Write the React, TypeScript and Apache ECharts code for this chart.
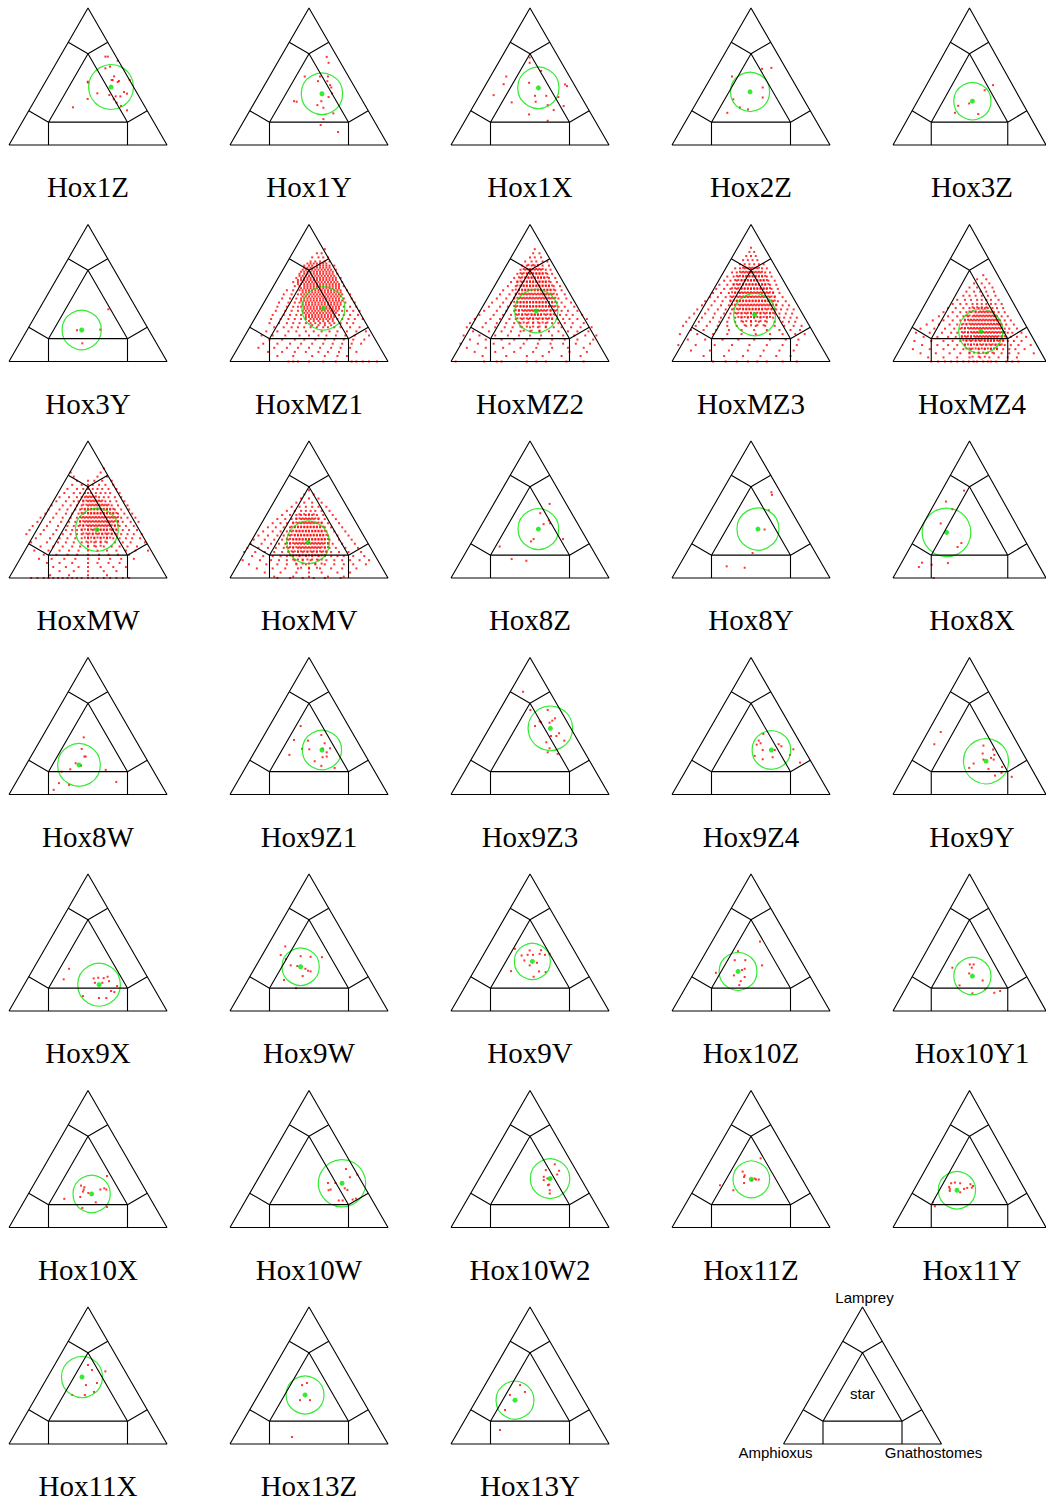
import React, { useEffect, useRef } from "react";
import * as echarts from "echarts";

// ---- panel names (row-major, 5 per row) ----
const PANEL_NAMES = [
  "Hox1Z", "Hox1Y", "Hox1X", "Hox2Z", "Hox3Z",
  "Hox3Y", "HoxMZ1", "HoxMZ2", "HoxMZ3", "HoxMZ4",
  "HoxMW", "HoxMV", "Hox8Z", "Hox8Y", "Hox8X",
  "Hox8W", "Hox9Z1", "Hox9Z3", "Hox9Z4", "Hox9Y",
  "Hox9X", "Hox9W", "Hox9V", "Hox10Z", "Hox10Y1",
  "Hox10X", "Hox10W", "Hox10W2", "Hox11Z", "Hox11Y",
  "Hox11X", "Hox13Z", "Hox13Y",
];

// mean position (x = % of base width, y = % of height) of each panel
const CENTERS: number[][] = [
  [64.6, 42.3], [58.2, 37.4], [55.3, 41.7], [49.4, 38.8], [51.9, 32],
  [46, 23], [59.1, 38.8], [54, 36.9], [52.3, 34.2], [57.4, 22],
  [55.6, 35.2], [49.4, 26], [55.3, 35.7], [54.4, 35.7], [35, 33.3],
  [44.3, 21.6], [58.2, 32.5], [62.9, 48.3], [62.9, 32.5], [60.8, 24.3],
  [57, 19.2], [44.7, 32.3], [51.5, 36.2], [41.8, 28.9], [51.9, 25.5],
  [52.3, 24.5], [70.9, 32.3], [62.7, 35.7], [50.2, 35.2], [41.8, 27.2],
  [46.2, 48.9], [47.5, 35.8], [40.5, 32],
];

// spread radius (in % of base width)
const RADII = [
  14.2, 13.1, 13.1, 12.4, 11.8,
  12.4, 13.6, 13.7, 13.3, 14,
  13.6, 13.5, 12.9, 13.3, 15.4,
  13.5, 12.4, 14.1, 12.2, 14.3,
  13.5, 11.8, 11.4, 12, 11.8,
  11.8, 15, 12.5, 11.6, 11.8,
  13, 12, 12,
];

// ---- sparse panels: [x, y] ----
const hox1Z = [[61, 64.5], [62.5, 64.5], [68.8, 61.5], [61, 56], [63.9, 57.2], [66.5, 50.1], [49.8, 46.2], [50, 45.7], [65, 47.4], [65.6, 47.4], [69.6, 46.7], [68.8, 46], [76.4, 47.4], [55.9, 37.7], [49.8, 33.6], [63.5, 36.5], [67.5, 35.5], [70.5, 35.5], [72.8, 38.7], [74.7, 37.5], [66.3, 33.4], [68.1, 30.9], [40.5, 27.5], [70.9, 28.5], [74.7, 25.3]];
const hox1Y = [[61.2, 64.3], [62.4, 60], [47.3, 50], [57, 50], [62, 50], [55.7, 46.6], [61.6, 46.6], [63.3, 43.7], [64.1, 42], [40.5, 32], [42.2, 31.6], [57.8, 32], [55.3, 29.1], [59.1, 27.2], [65.4, 23.1], [59.1, 18.9], [57.4, 14.6], [68.4, 9.5], [64.6, 37.6], [62.4, 35]];
const hox1X = [[49.8, 63.8], [49.8, 60], [57, 54.1], [35, 50], [33.3, 44.4], [49.4, 45.4], [72.2, 44.2], [73.4, 43], [27, 36.4], [53.2, 35.9], [60.3, 35.9], [67.9, 35], [38.4, 31.1], [53.6, 31.6], [61.2, 29.1], [71.3, 28.4], [65, 25.5], [49.4, 22.3], [61.2, 17.7]];
const hox2Z = [[57, 55.6], [62.9, 56.3], [38, 50], [57.4, 42], [57.4, 34.7], [38.8, 33.3], [43, 27.4], [48.1, 26], [35, 23.5]];
const hox3Z = [[65.4, 43.7], [59.9, 40], [42.6, 28.6], [55.7, 22.6], [40.5, 23.5], [49.8, 30.3]];
const hox3Y = [[62.9, 38.1], [43, 22.8], [57.8, 23.3], [46.4, 13.3]];
const hox8Z = [[62.4, 54.1], [56.5, 47.3], [61.9, 42], [62.7, 40], [52.3, 28.4], [70.9, 28.4], [50.6, 26.7], [30.8, 23], [38.4, 13.8], [47.7, 12.6], [58.6, 39.3]];
const hox8Y = [[62.9, 62.6], [63.3, 60.7], [61.2, 49.5], [58.6, 35.4], [51, 18.2], [34.6, 8.5], [46, 7.5]];
const hox8X = [[46.4, 63.8], [34.6, 55.8], [38.8, 50.2], [31.2, 39.8], [44.7, 25.5], [42.2, 22.6], [19, 11.2], [16.9, 8], [25.3, 9.7], [35.9, 10.9], [26.6, 0]];
const hox8W = [[47.3, 41.7], [46, 33.3], [47.7, 27.7], [48.5, 27.7], [42.2, 22.8], [45.6, 21.1], [38.8, 18.4], [33.3, 16.7], [61.2, 18], [67.9, 9.2], [31.6, 8.3], [38, 7], [28.3, 3.4]];
const hox9Z1 = [[44.7, 50], [40.5, 39.8], [49.4, 39.3], [57.8, 43.4], [59.9, 37.4], [45.6, 33.3], [50.2, 33], [58.6, 33.5], [63.3, 33.7], [61.2, 30.8], [58.6, 27.2], [61.2, 27.7], [37.6, 28.9], [53.6, 24.3], [57.8, 20.9], [66.2, 19.4]];
const hox9Z3 = [[45.6, 75], [50.2, 61.7], [61.2, 61.7], [56.1, 53.4], [57, 52.7], [65.8, 55.6], [64.1, 53.9], [62.4, 52.4], [53.2, 50], [68.4, 44.7], [63.3, 42.7], [66.7, 42.7], [71.7, 39.3], [60.3, 38.1], [62.4, 33.7], [61.2, 30.8], [67.5, 29.6]];
const hox9Z4 = [[54.9, 39.3], [56.1, 37.4], [57.8, 44.2], [67.5, 36.7], [65, 32.5], [57.4, 32.5], [63.7, 27.2], [57.4, 25.7], [52.3, 28.2], [76.8, 33], [74.7, 28.9], [81, 23.3], [53.6, 36.4], [69.2, 35.2]];
const hox9Y = [[31.2, 45.6], [27, 36.7], [59.1, 35.7], [65.4, 32.8], [66.2, 28.9], [64.1, 26.7], [65.8, 25.5], [58.6, 29.9], [59.1, 25.5], [52.7, 22.6], [49.8, 19.4], [62.4, 18.7], [70.9, 15.8], [66.7, 13.8], [77.6, 12.9], [71.3, 20.1]];
const hox9X = [[38, 30.8], [34.6, 23.1], [53.6, 23.8], [56.5, 24.3], [59.9, 24], [62.4, 25], [54.4, 20.6], [59.1, 20.6], [63.3, 21.8], [68.4, 18.2], [64.6, 14.6], [66.7, 13.8], [46.8, 10.9], [57, 9.5], [61.6, 9.5]];
const hox9W = [[35, 47.1], [32.1, 40.8], [35.4, 37.9], [44.7, 40], [51, 39.6], [58.2, 39.3], [38.4, 33.3], [42.6, 32.8], [47.7, 30.8], [49.4, 29.4], [51, 28.9], [46, 25.5], [34.2, 22.6], [41.8, 16.7]];
const hox9V = [[40.5, 45.4], [49.8, 44.2], [57, 44.4], [44.7, 40.5], [48.5, 41], [51.9, 41], [56.1, 41.7], [59.5, 41], [62.4, 41.7], [46.4, 36.9], [54.4, 35.2], [38, 29.1], [49.8, 33.3], [55.7, 28.9], [59.9, 28.4], [52.3, 25]];
const hox10Z = [[41.8, 43.7], [55.7, 50.7], [39.7, 37.1], [46.4, 37.1], [57, 33.3], [44.3, 29.9], [46, 30.8], [39.2, 26], [27.8, 27.9], [46, 24.8], [43.5, 21.8], [42.6, 18.9]];
const hox10Y1 = [[50.2, 34], [52.7, 34], [51.5, 31.6], [38.8, 31.6], [49.8, 27.4], [58.6, 22.3], [43.5, 18.7], [51.9, 12.9], [60.3, 15.8], [66.2, 13.3], [70, 14.6]];
const hox10X = [[62, 37.6], [45.6, 30.6], [47.7, 29.4], [47.3, 27.7], [46.8, 26.2], [50.2, 25.2], [57.8, 27.7], [60.3, 28.6], [61.6, 27.7], [45.1, 22.3], [35, 20.9], [54.9, 18.4], [46.4, 14.3], [62, 15]];
const hox10W = [[73.4, 42.7], [75.9, 36.7], [80.6, 38.6], [62, 32.5], [66.7, 32.5], [63.7, 27.7], [62.4, 27.2], [72.6, 28.6], [74.3, 27.4], [68.8, 19.7], [71.3, 19.7], [77.6, 20.4], [79.7, 21.1]];
const hox10W2 = [[65.7, 46.1], [60, 41.9], [68.4, 41.4], [67.2, 38.7], [58.7, 37], [58.7, 34.6], [61, 35.8], [62.1, 31.4], [61.4, 30.9], [62.5, 27.2], [62.5, 24.8]];
const hox11Z = [[56.1, 50.5], [44.7, 40.8], [46, 38.1], [45.6, 36.9], [52.3, 35.7], [53.2, 35], [54.9, 35], [50.6, 34.5], [45.6, 32.5], [30.4, 30.8], [38.8, 27.2]];
const hox11Y = [[38, 32.3], [40.5, 32.8], [43.9, 32.3], [50.6, 31.6], [52.3, 30.3], [36.7, 29.6], [37.1, 28.2], [46.4, 28.2], [48.5, 28.9], [43.9, 25.7], [37.1, 26.7], [26.2, 18.4], [27.4, 15.5], [51.5, 29.1]];
const hox11X = [[50, 57.7], [52.5, 54], [55.7, 44.5], [48.7, 43], [53.8, 38], [40, 35.8], [48, 35.8], [61, 53]];
const hox13Z = [[45.6, 43], [48.7, 44.5], [44.3, 32], [50.6, 32], [39.2, 5.1]];
const hox13Y = [[43.7, 43], [37.3, 35.8], [34.2, 24.8], [31, 10.2], [46.8, 38]];

// ---- dense panels: rows of [y, x-values] ----
type Rows = [number, number[]][];
const mz1Rows: Rows = [
  [82, [60]], [79, [55, 58]], [76, [52, 56, 59, 62]], [73, [51, 54, 57, 60, 63]],
  [70, [47, 50, 52, 55, 57, 59, 61, 63, 66]],
  [67, [46, 48, 50, 52, 54, 56, 58, 60, 62, 64, 67]],
  [64, [44, 47, 49, 51, 53, 55, 57, 59, 61, 63, 65, 68]],
  [61, [42, 45, 47, 49, 51, 53, 55, 57, 59, 61, 63, 65, 67, 70]],
  [58, [40, 43, 46, 48, 50, 52, 54, 56, 58, 60, 62, 64, 66, 68, 71]],
  [55, [41, 44, 47, 49, 51, 53, 55, 57, 59, 61, 63, 65, 67, 69, 72]],
  [52, [36, 40, 44, 46, 48, 50, 52, 54, 56, 58, 60, 62, 64, 66, 68, 70, 74]],
  [49, [34, 39, 43, 45, 47, 49, 51, 53, 55, 57, 59, 61, 63, 65, 67, 69, 71, 76]],
  [46, [33, 38, 42, 45, 47, 49, 51, 53, 55, 57, 59, 61, 63, 65, 67, 69, 72, 77]],
  [43, [31, 37, 41, 44, 46, 48, 50, 52, 54, 56, 58, 60, 62, 64, 66, 68, 70, 73, 79]],
  [40, [30, 36, 40, 43, 45, 47, 49, 51, 53, 55, 57, 59, 61, 63, 65, 67, 69, 72, 76, 80]],
  [37, [29, 35, 39, 43, 46, 48, 50, 52, 54, 56, 58, 60, 62, 64, 66, 68, 71, 74, 78, 82]],
  [34, [27, 34, 38, 42, 45, 48, 50, 52, 54, 56, 58, 60, 62, 64, 66, 69, 72, 76, 81]],
  [31, [26, 32, 37, 41, 45, 48, 51, 53, 55, 57, 59, 61, 63, 65, 68, 71, 75, 79, 84]],
  [28, [25, 31, 36, 40, 44, 48, 51, 54, 57, 60, 63, 66, 70, 74, 78]],
  [25, [28, 34, 39, 43, 47, 51, 55, 59, 62, 66, 70, 76, 82]],
  [22, [23, 30, 37, 42, 48, 53, 58, 63, 68, 74, 80, 86]],
  [19, [20, 27, 35, 44, 50, 56, 61, 67, 73, 79, 88]],
  [16, [25, 33, 41, 47, 54, 60, 66, 72, 78, 85]],
  [13, [21, 30, 38, 45, 52, 59, 65, 71, 77, 83]],
  [10, [18, 28, 36, 43, 50, 57, 64, 70, 76]],
  [7, [24, 33, 41, 48, 56, 62, 69, 80]],
  [4, [30, 40, 52, 60, 68, 74]],
  [0, [37, 40, 43, 50, 59, 67, 77, 80, 84, 88, 93]],
  // dense core
  [71.5, [49, 51, 53, 55, 57, 59, 61]],
  [68.5, [47, 49, 51, 53, 55, 57, 59, 61, 63]],
  [65.5, [45, 47, 49, 51, 53, 55, 57, 59, 61, 63, 65]],
  [62.5, [44, 46, 48, 50, 52, 54, 56, 58, 60, 62, 64, 66]],
  [59.5, [43, 45, 47, 49, 51, 53, 55, 57, 59, 61, 63, 65, 67]],
  [56.5, [43, 45, 47, 49, 51, 53, 55, 57, 59, 61, 63, 65, 67, 69]],
  [53.5, [45, 47, 49, 51, 53, 55, 57, 59, 61, 63, 65, 67, 69]],
  [50.5, [46, 48, 50, 52, 54, 56, 58, 60, 62, 64, 66, 68, 70]],
  [47.5, [46, 48, 50, 52, 54, 56, 58, 60, 62, 64, 66, 68, 70]],
  [44.5, [45, 47, 49, 51, 53, 55, 57, 59, 61, 63, 65, 67, 69, 71]],
  [41.5, [46, 48, 50, 52, 54, 56, 58, 60, 62, 64, 66, 68, 70]],
  [38.5, [47, 49, 51, 53, 55, 57, 59, 61, 63, 65, 67, 69]],
  [35.5, [47, 49, 51, 53, 55, 57, 59, 61, 63, 65, 67]],
  [32.5, [48, 50, 52, 54, 56, 58, 60, 62, 64, 66]],
  [29.5, [50, 53, 56, 59, 62, 65]],
  [26.5, [52, 56, 60, 64]],
];
const mz2Rows: Rows = [
  [82, [53]], [79, [52, 56]], [76, [50, 53, 57]], [73, [47, 51, 54, 58, 61]],
  [70, [45, 48, 51, 53, 55, 58, 62]],
  [67, [44, 47, 49, 51, 53, 55, 57, 60, 63]],
  [64, [42, 45, 48, 50, 52, 54, 56, 58, 61, 64]],
  [61, [40, 44, 47, 49, 51, 53, 55, 57, 59, 62, 66]],
  [58, [38, 42, 45, 48, 50, 52, 54, 56, 58, 60, 63, 67]],
  [55, [36, 41, 44, 46, 48, 50, 52, 54, 56, 58, 60, 62, 65, 69]],
  [52, [33, 39, 43, 45, 47, 49, 51, 53, 55, 57, 59, 61, 63, 66, 70]],
  [49, [31, 37, 41, 44, 46, 48, 50, 52, 54, 56, 58, 60, 62, 64, 67, 72]],
  [46, [29, 35, 40, 43, 45, 47, 49, 51, 53, 55, 57, 59, 61, 63, 65, 68, 73]],
  [43, [26, 33, 38, 42, 44, 46, 48, 50, 52, 54, 56, 58, 60, 62, 64, 67, 70, 76]],
  [40, [24, 31, 36, 41, 44, 46, 48, 50, 52, 54, 56, 58, 60, 62, 65, 68, 72, 78]],
  [37, [21, 29, 35, 40, 43, 46, 48, 50, 52, 54, 56, 58, 60, 63, 66, 70, 74, 80]],
  [34, [18, 27, 33, 38, 42, 45, 48, 51, 53, 55, 57, 60, 63, 66, 69, 73, 77, 83]],
  [31, [15, 25, 31, 37, 41, 45, 49, 52, 55, 58, 61, 64, 67, 71, 75, 80, 86]],
  [28, [12, 22, 29, 35, 40, 44, 48, 52, 56, 60, 64, 68, 72, 77, 84]],
  [25, [10, 20, 28, 34, 39, 45, 50, 55, 60, 65, 70, 76, 82, 89]],
  [22, [14, 24, 32, 38, 44, 50, 56, 62, 68, 74, 80, 87]],
  [19, [8, 18, 28, 36, 43, 50, 57, 64, 71, 78, 85, 92]],
  [16, [12, 22, 32, 40, 48, 56, 64, 72, 80, 90]],
  [13, [6, 17, 27, 37, 46, 55, 63, 71, 79, 88]],
  [10, [10, 22, 33, 44, 54, 64, 74, 84]],
  [7, [15, 28, 40, 52, 62, 75, 86]],
  [4, [20, 35, 48, 58, 70, 82]],
  [0, [3, 21, 29, 32, 48, 54, 60, 73, 84]],
  // dense core
  [70.5, [49, 52, 55]],
  [67.5, [46, 48, 50, 52, 54, 56, 58]],
  [64.5, [44, 46, 48, 50, 52, 54, 56, 58, 60]],
  [61.5, [43, 45, 47, 49, 51, 53, 55, 57, 59, 61]],
  [58.5, [42, 44, 46, 48, 50, 52, 54, 56, 58, 60, 62]],
  [55.5, [42, 44, 46, 48, 50, 52, 54, 56, 58, 60, 62, 64]],
  [52.5, [41, 43, 45, 47, 49, 51, 53, 55, 57, 59, 61, 63, 65]],
  [49.5, [41, 43, 45, 47, 49, 51, 53, 55, 57, 59, 61, 63, 65]],
  [46.5, [40, 42, 44, 46, 48, 50, 52, 54, 56, 58, 60, 62, 64, 66]],
  [43.5, [40, 42, 44, 46, 48, 50, 52, 54, 56, 58, 60, 62, 64, 66]],
  [40.5, [40, 42, 44, 46, 48, 50, 52, 54, 56, 58, 60, 62, 64, 66]],
  [37.5, [41, 43, 45, 47, 49, 51, 53, 55, 57, 59, 61, 63, 65, 67]],
  [34.5, [41, 43, 45, 47, 49, 51, 53, 55, 57, 59, 61, 63, 65]],
  [31.5, [42, 44, 46, 48, 50, 52, 54, 56, 58, 60, 62, 64]],
  [28.5, [43, 46, 49, 52, 55, 58, 61]],
  [25.5, [44, 48, 52, 56, 60]],
  [22.5, [46, 51, 56]],
];
const mz3Rows: Rows = [
  [83, [50]], [80, [49, 52]], [77, [47, 50, 53]], [74, [45, 48, 51, 54]],
  [71, [43, 46, 49, 52, 55, 58]],
  [68, [40, 43, 46, 48, 50, 52, 54, 57, 60]],
  [65, [38, 41, 44, 46, 48, 50, 52, 54, 56, 59, 62]],
  [62, [35, 39, 42, 45, 47, 49, 51, 53, 55, 57, 60, 63]],
  [59, [33, 37, 41, 44, 46, 48, 50, 52, 54, 56, 58, 61, 65]],
  [56, [30, 35, 39, 42, 45, 47, 49, 51, 53, 55, 57, 59, 62, 66]],
  [53, [28, 33, 37, 41, 44, 46, 48, 50, 52, 54, 56, 58, 60, 63, 67]],
  [50, [26, 31, 36, 40, 43, 45, 47, 49, 51, 53, 55, 57, 59, 61, 64, 68]],
  [47, [24, 29, 34, 38, 42, 44, 46, 48, 50, 52, 54, 56, 58, 60, 62, 65, 70]],
  [44, [21, 27, 32, 37, 41, 43, 45, 47, 49, 51, 53, 55, 57, 59, 61, 64, 67, 72]],
  [41, [19, 25, 31, 36, 40, 43, 45, 47, 49, 51, 53, 55, 57, 59, 61, 63, 66, 70, 74]],
  [38, [16, 23, 29, 34, 38, 42, 45, 47, 49, 51, 53, 55, 57, 60, 63, 66, 69, 73, 77]],
  [35, [14, 21, 27, 33, 37, 41, 44, 47, 50, 53, 56, 59, 62, 65, 68, 72, 76]],
  [32, [11, 19, 26, 31, 36, 40, 44, 48, 52, 56, 60, 64, 68, 71, 75, 79]],
  [29, [9, 17, 24, 30, 35, 40, 45, 50, 55, 60, 65, 70, 74, 78]],
  [26, [7, 15, 22, 29, 35, 41, 47, 53, 59, 65, 71, 77, 82]],
  [23, [12, 20, 28, 36, 44, 52, 60, 68, 75, 81]],
  [20, [5, 16, 26, 35, 44, 53, 62, 70, 78, 84]],
  [16, [10, 21, 32, 42, 52, 62, 72, 80]],
  [12, [4, 15, 27, 38, 49, 60, 70, 79]],
  [8, [12, 24, 36, 48, 58, 68, 77]],
  [4, [20, 33, 45, 56, 66, 75]],
  [0, [26, 34, 41, 48, 54, 60, 70, 79]],
  // dense core
  [68.5, [45, 47, 49, 51, 53, 55]],
  [65.5, [43, 45, 47, 49, 51, 53, 55, 57]],
  [62.5, [41, 43, 45, 47, 49, 51, 53, 55, 57, 59]],
  [59.5, [40, 42, 44, 46, 48, 50, 52, 54, 56, 58, 60]],
  [56.5, [39, 41, 43, 45, 47, 49, 51, 53, 55, 57, 59, 61]],
  [53.5, [38, 40, 42, 44, 46, 48, 50, 52, 54, 56, 58, 60, 62]],
  [50.5, [38, 40, 42, 44, 46, 48, 50, 52, 54, 56, 58, 60, 62, 64]],
  [47.5, [37, 39, 41, 43, 45, 47, 49, 51, 53, 55, 57, 59, 61, 63, 65]],
  [44.5, [37, 39, 41, 43, 45, 47, 49, 51, 53, 55, 57, 59, 61, 63, 65]],
  [41.5, [38, 40, 42, 44, 46, 48, 50, 52, 54, 56, 58, 60, 62, 64, 66]],
  [38.5, [39, 41, 43, 45, 47, 49, 51, 53, 55, 57, 59, 61, 63, 65]],
  [35.5, [40, 42, 44, 46, 48, 50, 52, 54, 56, 58, 60, 62, 64]],
  [32.5, [42, 44, 46, 48, 50, 52, 54, 56, 58, 60, 62]],
  [29.5, [44, 47, 50, 53, 56, 59]],
  [26.5, [46, 50, 54, 58]],
];
const mz4Rows: Rows = [
  [63, [59]], [60, [55, 61]], [57, [53, 58, 63]], [54, [50, 55, 60, 65]],
  [51, [48, 53, 57, 61, 66]],
  [48, [46, 50, 54, 58, 62, 67]],
  [45, [42, 47, 51, 55, 58, 61, 64, 69]],
  [42, [39, 44, 48, 52, 55, 58, 61, 64, 67, 71]],
  [39, [36, 41, 46, 50, 53, 56, 58, 60, 62, 65, 68, 72]],
  [36, [33, 39, 44, 48, 51, 54, 56, 58, 60, 62, 64, 66, 69, 73]],
  [33, [30, 36, 42, 46, 49, 52, 54, 56, 58, 60, 62, 64, 66, 68, 71, 75]],
  [30, [26, 33, 39, 44, 47, 50, 52, 54, 56, 58, 60, 62, 64, 66, 68, 70, 73, 77]],
  [27, [22, 30, 37, 42, 45, 48, 51, 53, 55, 57, 59, 61, 63, 65, 67, 69, 71, 74, 79]],
  [24, [18, 27, 34, 40, 44, 47, 50, 52, 54, 56, 58, 60, 62, 64, 66, 68, 70, 73, 76, 81]],
  [21, [15, 24, 32, 38, 42, 46, 49, 52, 54, 56, 58, 60, 62, 64, 66, 68, 70, 72, 75, 78, 84]],
  [18, [20, 29, 36, 41, 45, 48, 51, 54, 56, 58, 60, 62, 64, 66, 68, 71, 74, 77, 81, 87]],
  [15, [14, 25, 33, 39, 44, 48, 51, 54, 57, 60, 62, 64, 66, 69, 72, 75, 79, 84]],
  [12, [19, 29, 36, 42, 47, 51, 55, 58, 61, 64, 67, 70, 73, 77, 82, 90]],
  [9, [13, 24, 33, 40, 46, 51, 56, 60, 64, 68, 72, 76, 80, 86]],
  [6, [18, 28, 37, 44, 50, 56, 61, 66, 71, 76, 82, 92]],
  [3, [23, 33, 42, 50, 57, 63, 69, 75, 81]],
  [0, [25, 29.5, 34, 38, 42, 46, 49.6, 52.7, 55, 59, 62, 64, 67.5, 74, 78, 82]],
  // dense core
  [39.5, [52, 55, 58, 61]],
  [36.5, [50, 52, 54, 57, 59, 61, 63, 65]],
  [33.5, [48, 50, 53, 55, 57, 59, 61, 63, 65, 67]],
  [30.5, [47, 49, 51, 53, 55, 57, 59, 61, 63, 65, 67, 69]],
  [27.5, [46, 48, 50, 52, 54, 56, 58, 60, 62, 64, 66, 68, 70]],
  [24.5, [45, 47, 49, 51, 53, 55, 57, 59, 61, 63, 65, 67, 69, 71]],
  [21.5, [45, 47, 49, 51, 53, 55, 57, 59, 61, 63, 65, 67, 69, 71, 73]],
  [18.5, [45, 47, 49, 51, 53, 55, 57, 59, 61, 63, 65, 67, 69, 71, 73]],
  [15.5, [46, 48, 50, 52, 54, 56, 58, 60, 62, 64, 66, 68, 70, 72]],
  [12.5, [47, 49, 51, 53, 55, 57, 59, 61, 63, 65, 67, 69, 71]],
  [9.5, [48, 50, 52, 54, 56, 58, 60, 62, 64, 66, 68]],
  [6.5, [50, 53, 56, 59, 62, 65]],
  [3.5, [52, 56, 60]],
];
const mwRows: Rows = [
  [80, [60]], [77, [39, 58]], [74, [41, 56, 62]], [71, [43, 50, 54, 59, 65]],
  [68, [40, 46, 50, 53, 57, 61, 66]],
  [65, [37, 43, 47, 50, 53, 56, 59, 63, 68]],
  [62, [35, 41, 45, 48, 50, 52, 55, 58, 61, 64, 70]],
  [59, [32, 38, 43, 46, 48, 50, 52, 54, 57, 60, 63, 67, 71]],
  [56, [30, 36, 41, 44, 47, 50, 52, 54, 56, 58, 61, 64, 68, 73]],
  [53, [27, 34, 39, 43, 46, 50, 52, 54, 56, 58, 60, 62, 65, 69, 75]],
  [50, [25, 32, 37, 42, 45, 48, 50, 52, 54, 56, 58, 60, 62, 64, 67, 71, 76]],
  [47, [23, 30, 36, 40, 44, 47, 50, 52, 54, 56, 58, 60, 62, 64, 66, 69, 73, 78]],
  [44, [20, 28, 34, 39, 43, 46, 48, 50, 52, 54, 56, 58, 60, 62, 64, 66, 68, 71, 75, 80]],
  [41, [18, 26, 33, 38, 42, 45, 48, 50, 52, 54, 56, 58, 60, 62, 64, 66, 69, 72, 77, 82]],
  [38, [15, 24, 31, 37, 41, 44, 47, 50, 52, 54, 56, 58, 60, 62, 64, 67, 70, 74, 79]],
  [35, [13, 22, 30, 36, 40, 43, 46, 50, 53, 56, 58, 60, 62, 65, 68, 72, 76, 81]],
  [32, [11, 20, 28, 34, 39, 43, 46, 50, 53, 56, 59, 62, 65, 68, 71, 75, 79, 84]],
  [29, [17, 26, 32, 37, 42, 46, 50, 54, 58, 62, 66, 70, 74, 78, 83]],
  [26, [14, 24, 31, 36, 41, 46, 50, 54, 58, 62, 67, 72, 77, 86]],
  [23, [20, 28, 34, 40, 45, 50, 55, 60, 65, 70, 75, 81]],
  [20, [16, 25, 32, 38, 44, 50, 56, 62, 68, 74, 80, 88]],
  [17, [22, 30, 37, 43, 50, 57, 63, 69, 76]],
  [14, [19, 27, 35, 42, 50, 57, 64, 71, 79]],
  [11, [24, 32, 40, 50, 56, 63, 70]],
  [8, [28, 36, 44, 50, 58, 66, 74]],
  [5, [32, 41, 50, 60, 68]],
  [2, [26, 38, 50, 62]],
  [0, [14, 18, 22, 25, 28, 31, 34, 37, 40, 43, 46, 50, 53, 56, 60, 64, 68, 72, 76]],
  // dense core
  [59.5, [49, 51, 53, 55]],
  [56.5, [47, 49, 51, 53, 55, 57, 59]],
  [53.5, [47, 49, 51, 53, 55, 57, 59, 61, 63]],
  [50.5, [46, 48, 50, 52, 54, 56, 58, 60, 62, 64, 66]],
  [47.5, [46, 48, 50, 52, 54, 56, 58, 60, 62, 64, 66, 68]],
  [44.5, [45, 47, 49, 51, 53, 55, 57, 59, 61, 63, 65, 67, 69]],
  [41.5, [45, 47, 49, 51, 53, 55, 57, 59, 61, 63, 65, 67, 69]],
  [38.5, [45, 47, 49, 51, 53, 55, 57, 59, 61, 63, 65, 67, 69]],
  [35.5, [46, 48, 50, 52, 54, 56, 58, 60, 62, 64, 66, 68]],
  [32.5, [47, 49, 51, 53, 55, 57, 59, 61, 63, 65, 67]],
  [29.5, [48, 50, 52, 54, 56, 58, 60, 62, 64]],
  [26.5, [49, 52, 55, 58, 61]],
  [23.5, [50, 54, 58]],
];
const mvRows: Rows = [
  [64, [50]], [61, [47, 53]], [58, [45, 50, 56]], [55, [42, 47, 52, 58]],
  [52, [39, 44, 48, 52, 56, 61]],
  [49, [36, 41, 45, 48, 51, 54, 58, 63]],
  [46, [33, 38, 42, 45, 48, 50, 52, 55, 59, 65]],
  [43, [30, 35, 39, 42, 45, 47, 49, 51, 53, 56, 60, 67]],
  [40, [27, 32, 36, 40, 43, 45, 47, 49, 51, 53, 55, 58, 62, 69]],
  [37, [24, 29, 34, 38, 41, 43, 45, 47, 49, 51, 53, 55, 57, 60, 64, 71]],
  [34, [21, 27, 32, 36, 39, 42, 44, 46, 48, 50, 52, 54, 56, 58, 61, 66, 73]],
  [31, [18, 24, 30, 34, 38, 41, 43, 45, 47, 49, 51, 53, 55, 57, 59, 62, 68, 75]],
  [28, [15, 22, 28, 33, 37, 40, 42, 44, 46, 48, 50, 52, 54, 56, 58, 60, 63, 69, 77]],
  [25, [13, 20, 26, 31, 35, 38, 41, 43, 45, 47, 49, 51, 53, 55, 57, 59, 62, 65, 71, 79]],
  [22, [11, 18, 24, 29, 34, 37, 40, 43, 45, 47, 49, 51, 53, 55, 57, 60, 63, 67, 73, 81]],
  [19, [9, 16, 22, 28, 33, 37, 40, 43, 46, 49, 52, 55, 58, 61, 64, 69, 75, 83]],
  [16, [14, 21, 27, 32, 36, 40, 44, 48, 52, 56, 60, 64, 68, 72, 78, 85]],
  [13, [8, 19, 26, 31, 36, 41, 46, 51, 56, 61, 66, 71, 76, 82, 88]],
  [10, [12, 23, 30, 36, 42, 48, 54, 60, 66, 72, 78, 86]],
  [7, [17, 27, 35, 43, 50, 57, 64, 71, 80]],
  [4, [22, 32, 42, 50, 58, 68, 76]],
  [1, [28, 40, 50, 62, 72]],
  [0, [30, 38, 46, 53, 60, 70]],
  // dense core
  [46.5, [44, 47, 50, 53]],
  [43.5, [42, 44, 46, 48, 50, 52, 54, 56]],
  [40.5, [40, 42, 44, 46, 48, 50, 52, 54, 56, 58]],
  [37.5, [39, 41, 43, 45, 47, 49, 51, 53, 55, 57, 59]],
  [34.5, [38, 40, 42, 44, 46, 48, 50, 52, 54, 56, 58, 60]],
  [31.5, [37, 39, 41, 43, 45, 47, 49, 51, 53, 55, 57, 59, 61]],
  [28.5, [36, 38, 40, 42, 44, 46, 48, 50, 52, 54, 56, 58, 60, 62]],
  [25.5, [36, 38, 40, 42, 44, 46, 48, 50, 52, 54, 56, 58, 60, 62]],
  [22.5, [36, 38, 40, 42, 44, 46, 48, 50, 52, 54, 56, 58, 60, 62]],
  [19.5, [37, 39, 41, 43, 45, 47, 49, 51, 53, 55, 57, 59, 61]],
  [16.5, [38, 40, 42, 44, 46, 48, 50, 52, 54, 56, 58, 60]],
  [13.5, [40, 43, 46, 49, 52, 55, 58]],
  [10.5, [42, 46, 50, 54, 58]],
  [7.5, [45, 50, 55]],
];

const expandRows = (rows: Rows) => rows.flatMap(([y, xs]) => xs.map((x) => [x, y]));

const PANEL_POINTS: number[][][] = [
  hox1Z, hox1Y, hox1X, hox2Z, hox3Z,
  hox3Y, expandRows(mz1Rows), expandRows(mz2Rows), expandRows(mz3Rows), expandRows(mz4Rows),
  expandRows(mwRows), expandRows(mvRows), hox8Z, hox8Y, hox8X,
  hox8W, hox9Z1, hox9Z3, hox9Z4, hox9Y,
  hox9X, hox9W, hox9V, hox10Z, hox10Y1,
  hox10X, hox10W, hox10W2, hox11Z, hox11Y,
  hox11X, hox13Z, hox13Y,
];

// frame of the ternary diagram (x = % width, y = % height)
const FRAME_LINES: number[][][] = [
  [[0, 0], [50, 100], [100, 0], [0, 0]],
  [[25, 16.667], [50, 66.667], [75, 16.667], [25, 16.667]],
  [[37.5, 75], [50, 66.667], [62.5, 75]],
  [[12.5, 25], [25, 16.667], [25, 0]],
  [[87.5, 25], [75, 16.667], [75, 0]],
];

const LEGEND_LABELS = ["Lamprey", "Amphioxus", "Gnathostomes", "star"];

// layout
const W = 158;
const H = 137;
const LEFT0 = 9;
const COL_STEP = 221;
const TOP0 = 8;
const ROW_STEP = 216.5;
const LEGEND_LEFT = 783.5;
const LEGEND_TOP = 1307;

export default function App() {
  const ref = useRef<HTMLDivElement>(null);

  useEffect(() => {
    if (!ref.current) return;
    const chart = echarts.init(ref.current, undefined, { renderer: "svg" });

    const grids: any[] = [];
    const xAxes: any[] = [];
    const yAxes: any[] = [];
    const series: any[] = [];
    const graphics: any[] = [];

    const addFrame = (gi: number) => {
      FRAME_LINES.forEach((pts) => {
        series.push({
          type: "line",
          xAxisIndex: gi,
          yAxisIndex: gi,
          data: pts,
          symbol: "none",
          silent: true,
          clip: false,
          lineStyle: { color: "#000", width: 1.1 },
        });
      });
    };

    PANEL_NAMES.forEach((name, i) => {
      const row = Math.floor(i / 5);
      const col = i % 5;
      const left = LEFT0 + col * COL_STEP;
      const top = TOP0 + row * ROW_STEP;
      grids.push({ left, top, width: W, height: H, containLabel: false });
      xAxes.push({ gridIndex: i, type: "value", min: 0, max: 100, show: false });
      yAxes.push({ gridIndex: i, type: "value", min: 0, max: 100, show: false });
      addFrame(i);
      series.push({
        type: "scatter",
        xAxisIndex: i,
        yAxisIndex: i,
        data: PANEL_POINTS[i],
        symbol: "rect",
        symbolSize: 2,
        silent: true,
        clip: false,
        itemStyle: { color: "#ff0000" },
      });
      series.push({
        type: "scatter",
        xAxisIndex: i,
        yAxisIndex: i,
        data: [CENTERS[i]],
        symbol: "circle",
        symbolSize: RADII[i] * 2 * (W / 100),
        silent: true,
        clip: false,
        itemStyle: { color: "rgba(0,0,0,0)", borderColor: "#00e600", borderWidth: 1.2 },
      });
      series.push({
        type: "scatter",
        xAxisIndex: i,
        yAxisIndex: i,
        data: [CENTERS[i]],
        symbol: "circle",
        symbolSize: 5,
        silent: true,
        clip: false,
        itemStyle: { color: "#00e600" },
      });
      graphics.push({
        type: "text",
        x: left + W / 2,
        y: top + 179,
        silent: true,
        style: {
          text: name,
          fill: "#000",
          fontFamily: "Liberation Serif",
          fontSize: 29,
          textAlign: "center",
          align: "center",
          textVerticalAlign: "middle",
          verticalAlign: "middle",
        },
      });
    });

    // legend triangle
    const li = PANEL_NAMES.length;
    grids.push({ left: LEGEND_LEFT, top: LEGEND_TOP, width: W, height: H });
    xAxes.push({ gridIndex: li, type: "value", min: 0, max: 100, show: false });
    yAxes.push({ gridIndex: li, type: "value", min: 0, max: 100, show: false });
    addFrame(li);
    const legendPos = [
      [LEGEND_LEFT + W / 2 + 2, LEGEND_TOP - 10],
      [LEGEND_LEFT - 8, LEGEND_TOP + H + 8],
      [LEGEND_LEFT + W - 8, LEGEND_TOP + H + 8],
      [LEGEND_LEFT + W / 2, LEGEND_TOP + 86],
    ];
    LEGEND_LABELS.forEach((t, k) => {
      graphics.push({
        type: "text",
        x: legendPos[k][0],
        y: legendPos[k][1],
        silent: true,
        style: {
          text: t,
          fill: "#000",
          fontFamily: "Liberation Sans",
          fontSize: 15,
          textAlign: "center",
          align: "center",
          textVerticalAlign: "middle",
          verticalAlign: "middle",
        },
      });
    });

    chart.setOption({
      animation: false,
      backgroundColor: "#ffffff",
      grid: grids,
      xAxis: xAxes,
      yAxis: yAxes,
      series,
      graphic: { elements: graphics },
    });

    return () => chart.dispose();
  }, []);

  return (
    <div
      ref={ref}
      style={{ position: "absolute", left: 0, top: 0, width: 1046, height: 1503, background: "#fff" }}
    />
  );
}
